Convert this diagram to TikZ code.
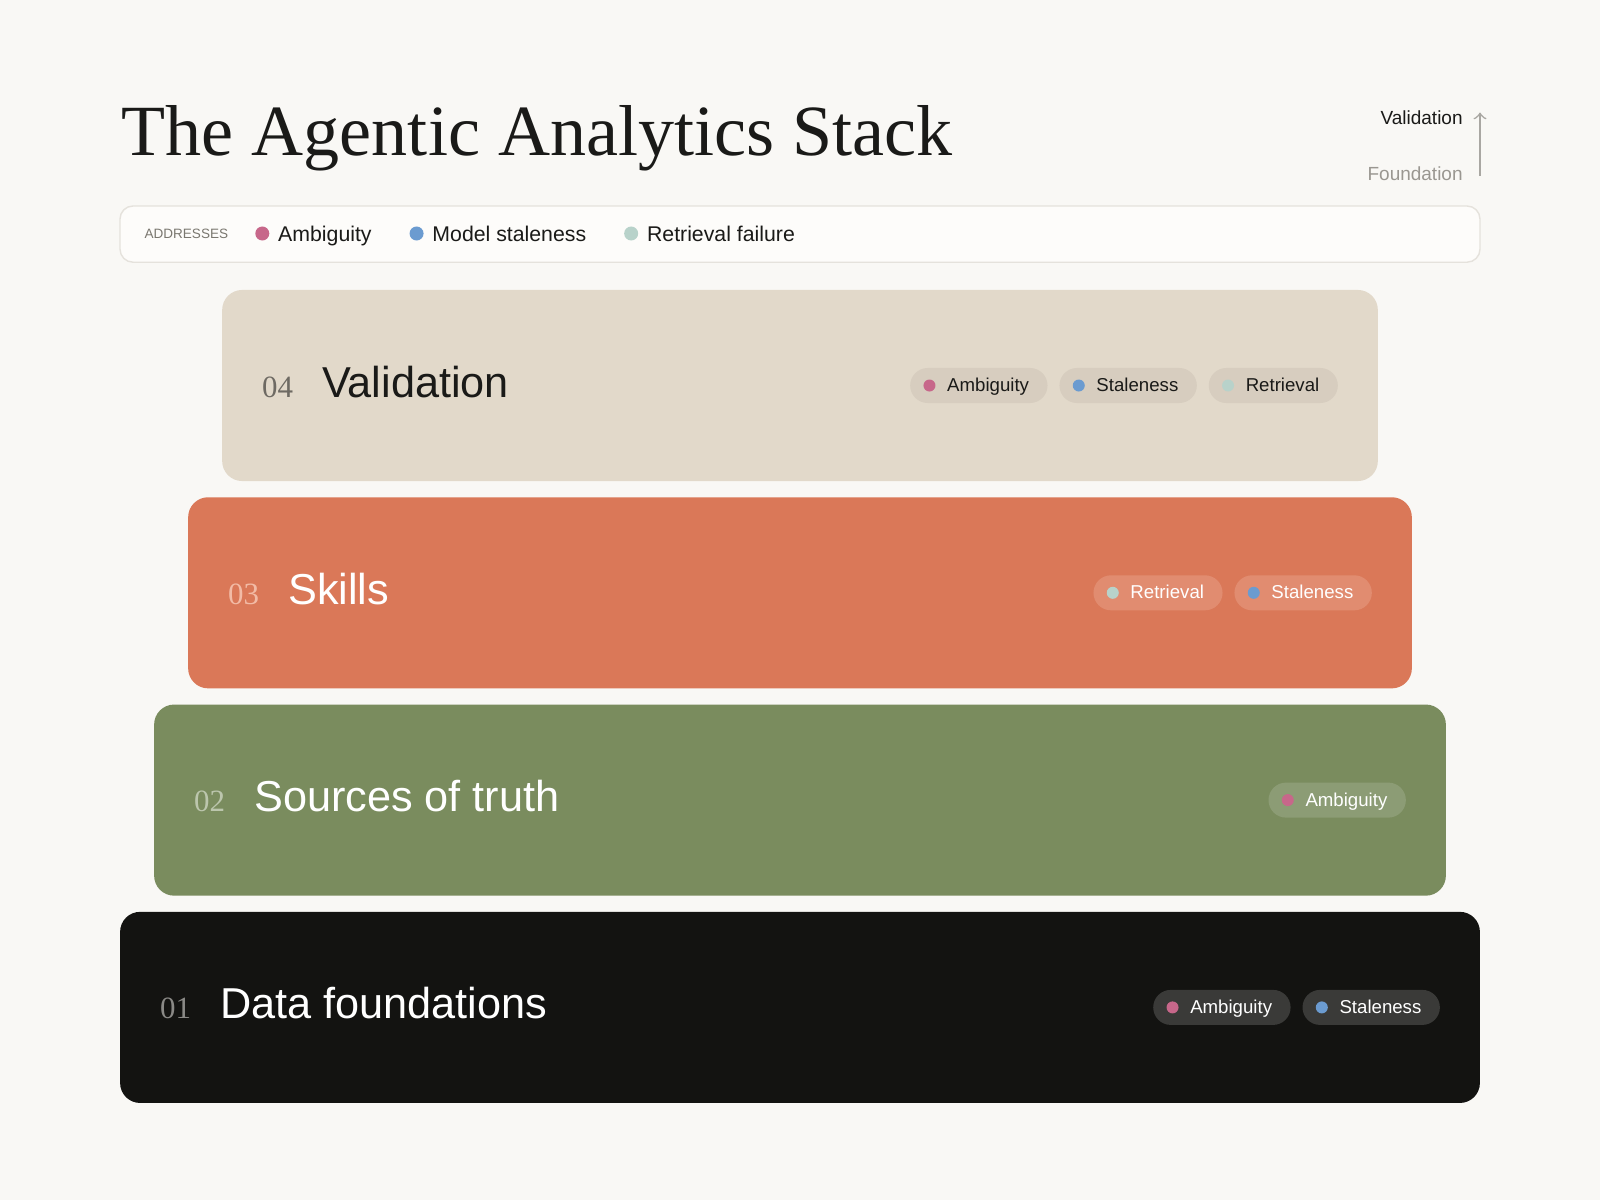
\documentclass[tikz,border=0pt]{standalone}
\usepackage{fontspec}
\setmainfont{Liberation Serif}
\setsansfont{Liberation Sans}
\usetikzlibrary{positioning}
\definecolor{paper}{HTML}{F9F8F5}
\definecolor{ink}{HTML}{1A1A18}
\definecolor{legline}{HTML}{E5E2DC}
\definecolor{legfill}{HTML}{FDFCFA}
\definecolor{greytxt}{HTML}{7A776F}
\definecolor{fndgrey}{HTML}{9A9791}
\definecolor{arrgrey}{HTML}{A9A7A2}
\definecolor{pinkdot}{HTML}{C7678A}
\definecolor{bluedot}{HTML}{6B9BD0}
\definecolor{tealdot}{HTML}{B8D2CA}
\definecolor{sand}{HTML}{E2D9CA}
\definecolor{sandpill}{HTML}{D7CDBF}
\definecolor{sandnum}{HTML}{6E6A63}
\definecolor{clay}{HTML}{DA7858}
\definecolor{claypill}{HTML}{E18C70}
\definecolor{claynum}{HTML}{F2BBA6}
\definecolor{olive}{HTML}{7A8C5E}
\definecolor{olivepill}{HTML}{8C9C75}
\definecolor{olivenum}{HTML}{BCC6AD}
\definecolor{coal}{HTML}{131311}
\definecolor{coalpill}{HTML}{3A3A38}
\definecolor{coalnum}{HTML}{8A8986}

\tikzset{
  layer/.style={rounded corners=0.2cm, minimum height=1.91cm, inner sep=0},
  num/.style={anchor=base west, inner sep=0, font=\rmfamily\fontsize{8.8}{10}\selectfont},
  ttl/.style={anchor=base west, inner sep=0, font=\sffamily\fontsize{12.3}{14}\selectfont},
  pill/.style={rounded corners=0.175cm, minimum height=0.35cm, inner xsep=0.185cm, inner ysep=0,
    text height=0.13cm, text depth=0.01cm, font=\sffamily\fontsize{5.3}{6}\selectfont},
  dot/.style={circle, inner sep=0, minimum size=0.12cm},
  legtxt/.style={inner sep=0, text height=0.154cm, text depth=0, text=ink, font=\sffamily\fontsize{6.05}{7}\selectfont},
  side/.style={anchor=base east, inner sep=0, font=\sffamily\fontsize{5.4}{6}\selectfont},
  pill4/.style={pill, fill=sandpill, text=ink},
  pill3/.style={pill, fill=claypill, text=white},
  pill2/.style={pill, fill=olivepill, text=white},
  pill1/.style={pill, fill=coalpill, text=white}
}

\begin{document}
\begin{tikzpicture}[x=0.01cm, y=-0.01cm]
  \fill[paper] (0,0) rectangle (1600,1200);
  \node[anchor=base west, inner sep=0, text=ink, font=\rmfamily\fontsize{20.5}{24}\selectfont] (title) at (121,155.7) {The Agentic Analytics Stack};
  \node[side, text=ink] (hi) at (1463.3,124.3) {Validation};
  \node[side, text=fndgrey] (lo) at (1463.3,180) {Foundation};
  \coordinate (abot) at (1480,175.7);
  \coordinate (atop) at (1480,112.5);
  \draw[->, arrgrey, line width=0.45pt] (abot) -- (atop);

  \node[draw=legline, fill=legfill, line width=0.4pt, rounded corners=0.13cm, minimum width=13.592cm, minimum height=0.562cm] (leg) at (800,234.1) {};
  \node[anchor=west, inner sep=0, text height=0.105cm, text depth=0, text=greytxt, font=\sffamily\fontsize{3.85}{5}\selectfont] (addr) at (143.9,233) {ADDRESSES};
  \node[dot, minimum size=0.14cm, fill=pinkdot] (ka) at (262.3,233.5) {};
  \node[legtxt, right=0.075cm of ka] (ta) {Ambiguity};
  \node[dot, minimum size=0.14cm, fill=bluedot, right=0.365cm of ta] (kb) {};
  \node[legtxt, right=0.075cm of kb] (tb) {Model staleness};
  \node[dot, minimum size=0.14cm, fill=tealdot, right=0.365cm of tb] (kc) {};
  \node[legtxt, right=0.075cm of kc] (tc) {Retrieval failure};

  \node[layer, fill=sand, minimum width=11.55cm] (l4) at (800,385.5) {};
  \node[num, text=sandnum] (n4) at ([xshift=0.4cm, yshift=-0.115cm]l4.west) {04};
  \node[ttl, text=ink] (t4) at ([xshift=1cm, yshift=-0.115cm]l4.west) {Validation};
  \node[pill4, anchor=east] (p4c) at ([xshift=-0.4cm]l4.east) {\hspace*{0.185cm}Retrieval};
  \node[pill4, left=0.105cm of p4c] (p4b) {\hspace*{0.185cm}Staleness};
  \node[pill4, left=0.105cm of p4b] (p4a) {\hspace*{0.185cm}Ambiguity};
  \node[dot, fill=pinkdot] (d4a) at ([xshift=0.2cm]p4a.west) {};
  \node[dot, fill=bluedot] (d4b) at ([xshift=0.2cm]p4b.west) {};
  \node[dot, fill=tealdot] (d4c) at ([xshift=0.2cm]p4c.west) {};

  \node[layer, fill=clay, minimum width=12.23cm] (l3) at (800,592.8) {};
  \node[num, text=claynum] (n3) at ([xshift=0.4cm, yshift=-0.115cm]l3.west) {03};
  \node[ttl, text=white] (t3) at ([xshift=1cm, yshift=-0.115cm]l3.west) {Skills};
  \node[pill3, anchor=east] (p3b) at ([xshift=-0.4cm]l3.east) {\hspace*{0.185cm}Staleness};
  \node[pill3, left=0.105cm of p3b] (p3a) {\hspace*{0.185cm}Retrieval};
  \node[dot, fill=tealdot] (d3a) at ([xshift=0.2cm]p3a.west) {};
  \node[dot, fill=bluedot] (d3b) at ([xshift=0.2cm]p3b.west) {};

  \node[layer, fill=olive, minimum width=12.91cm] (l2) at (800,800.1) {};
  \node[num, text=olivenum] (n2) at ([xshift=0.4cm, yshift=-0.115cm]l2.west) {02};
  \node[ttl, text=white] (t2) at ([xshift=1cm, yshift=-0.115cm]l2.west) {Sources of truth};
  \node[pill2, anchor=east] (p2a) at ([xshift=-0.4cm]l2.east) {\hspace*{0.185cm}Ambiguity};
  \node[dot, fill=pinkdot] (d2a) at ([xshift=0.2cm]p2a.west) {};

  \node[layer, fill=coal, minimum width=13.59cm] (l1) at (800,1007.4) {};
  \node[num, text=coalnum] (n1) at ([xshift=0.4cm, yshift=-0.115cm]l1.west) {01};
  \node[ttl, text=white] (t1) at ([xshift=1cm, yshift=-0.115cm]l1.west) {Data foundations};
  \node[pill1, anchor=east] (p1b) at ([xshift=-0.4cm]l1.east) {\hspace*{0.185cm}Staleness};
  \node[pill1, left=0.105cm of p1b] (p1a) {\hspace*{0.185cm}Ambiguity};
  \node[dot, fill=pinkdot] (d1a) at ([xshift=0.2cm]p1a.west) {};
  \node[dot, fill=bluedot] (d1b) at ([xshift=0.2cm]p1b.west) {};
\end{tikzpicture}
\end{document}
